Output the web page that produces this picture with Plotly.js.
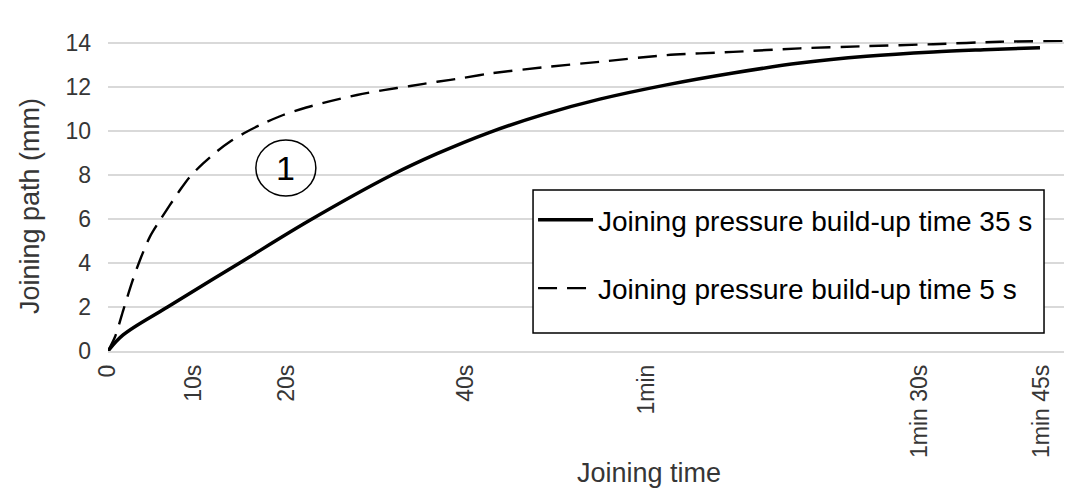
<!DOCTYPE html>
<html>
<head>
<meta charset="utf-8">
<script src="https://cdn.plot.ly/plotly-3.0.1.min.js"></script>
<style>
  html, body { margin: 0; padding: 0; background: #ffffff; }
  #chart { width: 1076px; height: 491px; }
</style>
</head>
<body>
<div id="chart"></div>
<script>
// Category positions of the x tick labels and their labels
const tickPositions = [0, 9.67, 20.1, 40.25, 60.6, 91.3, 105.0];
const tickLabels = ["0", "10s", "20s", "40s", "1min", "1min 30s", "1min 45s"];

// Joining pressure build-up time 35 s (solid)
const timeSolid = [0, 1.7, 6.7, 14.8, 22.6, 31.9, 37, 42.7, 49, 55.3, 62.8, 70.3, 77.8, 85.3, 92.8, 98.5, 104.8];
const pathSolid = [0, 0.73, 2.0, 4.0, 5.92, 8.0, 8.97, 9.91, 10.76, 11.45, 12.1, 12.64, 13.09, 13.4, 13.6, 13.7, 13.79];

// Joining pressure build-up time 5 s (dashed)
const timeDashed = [0, 0.79, 1.72, 2.66, 3.6, 4.72, 5.85, 6.97, 8.1, 9.2, 10.7, 12.2, 13.7, 15.6, 17.5, 19.7, 22.3, 25, 28, 31, 34, 37, 40, 43, 49, 55.3, 62.8, 70.3, 77.8, 85.3, 92.8, 100.3, 107.4];
const pathDashed = [0, 0.65, 1.86, 3.08, 4.14, 5.2, 5.95, 6.64, 7.32, 7.92, 8.53, 9.06, 9.51, 9.97, 10.35, 10.73, 11.07, 11.36, 11.64, 11.86, 12.05, 12.24, 12.42, 12.62, 12.9, 13.15, 13.45, 13.6, 13.76, 13.86, 13.95, 14.06, 14.1];

const seriesNames = ["Joining pressure build-up time 35 s", "Joining pressure build-up time 5 s"];
const yTicks = [0, 2, 4, 6, 8, 10, 12, 14];

// Annotation marker "1" between the curves
const markerLabel = "1";
const markerX = 20.0;
const markerY = 8.32;

const FONT = '"Liberation Sans", Arial, sans-serif';
const TEXT = '#363636';

const traces = [
  {
    x: timeSolid, y: pathSolid, name: seriesNames[0], type: 'scatter', mode: 'lines',
    line: { color: '#000000', width: 3.5, shape: 'spline', smoothing: 1.0 },
    legendgroup: 'a'
  },
  {
    x: timeDashed, y: pathDashed, name: seriesNames[1], type: 'scatter', mode: 'lines',
    line: { color: '#000000', width: 2.4, dash: '19px,10px', shape: 'spline', smoothing: 0.8 },
    legendgroup: 'b'
  }
];

const layout = {
  width: 1076, height: 491,
  margin: { l: 108, r: 12, t: 40, b: 140 },
  paper_bgcolor: '#ffffff', plot_bgcolor: '#ffffff',
  font: { family: FONT, color: TEXT },
  showlegend: true,
  legend: {
    x: 0.4446, y: 0.5016, xanchor: 'left', yanchor: 'top',
    bgcolor: 'rgba(0,0,0,0)', borderwidth: 0,
    font: { family: FONT, size: 28, color: '#000000' },
    traceorder: 'grouped', tracegroupgap: 29, itemwidth: 55
  },
  xaxis: {
    range: [0, 107.5],
    tickmode: 'array', tickvals: tickPositions, ticktext: tickLabels,
    tickangle: -90, tickfont: { size: 23, color: TEXT },
    ticklabelstandoff: 3,
    showgrid: false, zeroline: false,
    showline: true, linecolor: '#d9d9d9', linewidth: 1.5,
    ticks: '', automargin: false
  },
  yaxis: {
    range: [0, 14.14],
    tickmode: 'array', tickvals: yTicks,
    tickfont: { size: 23, color: TEXT },
    ticklabelstandoff: 16,
    showgrid: true, gridcolor: '#d9d9d9', gridwidth: 1.5,
    zeroline: false, showline: false, ticks: '',
    automargin: false
  },
  shapes: [
    {
      // legend frame
      type: 'rect', xref: 'paper', yref: 'paper', layer: 'above',
      x0: 0.4446, x1: 0.9791, y0: 0.0579, y1: 0.5177,
      line: { color: '#000000', width: 1.5 }, fillcolor: '#ffffff'
    },
    {
      type: 'circle', xref: 'x', yref: 'y', xsizemode: 'pixel', ysizemode: 'pixel',
      xanchor: markerX, yanchor: markerY, x0: -30, x1: 30, y0: -28, y1: 28,
      line: { color: '#000000', width: 1.5 }, fillcolor: 'rgba(0,0,0,0)'
    }
  ],
  annotations: [
    {
      x: markerX, y: markerY, xref: 'x', yref: 'y', text: markerLabel, showarrow: false,
      font: { family: FONT, size: 34, color: '#000000' }, xanchor: 'center', yanchor: 'middle'
    },
    {
      x: 0.566, y: -0.392, xref: 'paper', yref: 'paper', text: 'Joining time', showarrow: false,
      font: { family: FONT, size: 27, color: TEXT }, xanchor: 'center', yanchor: 'middle'
    },
    {
      x: -0.0816, y: 0.466, xref: 'paper', yref: 'paper', text: 'Joining path (mm)', showarrow: false,
      textangle: -90,
      font: { family: FONT, size: 27, color: TEXT }, xanchor: 'center', yanchor: 'middle'
    }
  ]
};

Plotly.newPlot('chart', traces, layout, { displayModeBar: false, staticPlot: true });
</script>
</body>
</html>
